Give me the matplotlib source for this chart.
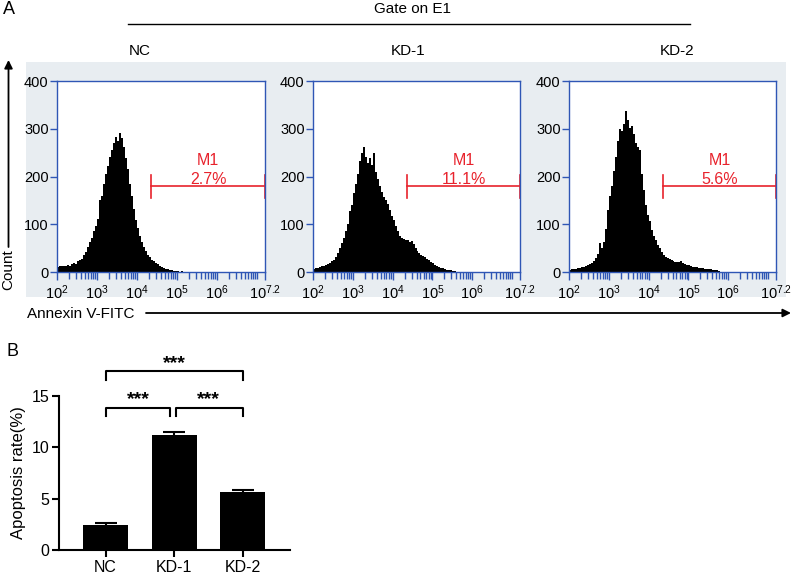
import numpy as np
import matplotlib.pyplot as plt
from matplotlib.patches import Rectangle, FancyArrowPatch

plt.rcParams['font.family'] = ['Liberation Sans', 'DejaVu Sans']
plt.rcParams['mathtext.fontset'] = 'custom'
plt.rcParams['mathtext.rm'] = 'Liberation Sans'

# histogram counts per 0.05-decade bin, starting at 10^2
nc_counts = [10, 12, 13, 12, 13, 14, 12, 16, 18, 17, 22, 25, 28, 35, 42, 52, 63, 72, 86, 97,
             112, 150, 160, 185, 205, 222, 240, 255, 270, 282, 275, 292, 280, 262, 238, 215,
             185, 160, 132, 108, 92, 76, 62, 52, 44, 36, 31, 26, 22, 19, 16, 13, 11, 9, 7, 6,
             5, 4, 3, 2, 2, 1, 2, 0, 1]
kd1_counts = [6, 8, 9, 10, 12, 13, 14, 16, 19, 22, 26, 32, 40, 50, 60, 72, 85, 100, 128, 140,
              165, 185, 205, 232, 250, 262, 240, 228, 238, 225, 250, 210, 195, 180, 168, 158,
              150, 142, 130, 118, 108, 96, 86, 76, 72, 70, 66, 68, 62, 64, 58, 50, 44, 40, 36,
              33, 31, 28, 25, 21, 18, 15, 13, 11, 9, 8, 7, 5, 4, 4, 2, 2, 1]
kd2_counts = [5, 6, 7, 7, 8, 9, 10, 10, 12, 14, 16, 19, 24, 30, 38, 60, 50, 62, 90, 130,
              160, 180, 212, 240, 275, 300, 296, 310, 338, 318, 302, 305, 288, 270, 262, 255,
              205, 172, 140, 120, 106, 88, 76, 66, 57, 50, 42, 36, 32, 29, 27, 25, 23, 21, 20,
              21, 22, 19, 17, 15, 14, 13, 11, 10, 10, 9, 8, 8, 7, 7, 6, 6, 5, 5, 4, 2]
hist_names = ['NC', 'KD-1', 'KD-2']
gate_pct = ['2.7%', '11.1%', '5.6%']
gate_start = 4.36  # log10
gate_level = 180

groups = ['NC', 'KD-1', 'KD-2']
rate_mean = [2.45, 11.2, 5.6]
rate_err = [0.2, 0.25, 0.2]

W, H = 796, 574
blue = '#2f56b5'
red = '#e8222c'


def fbox(x0, y0, x1, y1):
    return [x0 / W, 1 - y1 / H, (x1 - x0) / W, (y1 - y0) / H]


def fx(px):
    return px / W


def fy(py):
    return 1 - py / H


fig = plt.figure(figsize=(W / 100, H / 100), dpi=100)

# grey panel behind histograms
fig.patches.append(Rectangle((fx(26), fy(297)), fx(786) - fx(26), fy(62) - fy(297),
                             transform=fig.transFigure, facecolor='#e8edf1',
                             edgecolor='none', zorder=-5))

fig.text(fx(9), fy(9), 'A', fontsize=13, ha='center', va='center')
fig.text(fx(12), fy(352), 'B', fontsize=13, ha='center', va='center')
fig.text(fx(412), fy(9), 'Gate on E1', fontsize=11, ha='center', va='center')
fig.add_artist(plt.Line2D([fx(128), fx(690)], [fy(24), fy(24)], color='black', lw=1,
                          transform=fig.transFigure))
for name, xc in zip(hist_names, [140, 408, 677]):
    fig.text(fx(xc), fy(51), name, fontsize=11, ha='center', va='center')


def fig_arrow(p0, p1):
    fig.add_artist(FancyArrowPatch((fx(p0[0]), fy(p0[1])), (fx(p1[0]), fy(p1[1])),
                                   transform=fig.transFigure, arrowstyle='-|>',
                                   mutation_scale=12, color='black', lw=1.3,
                                   shrinkA=0, shrinkB=0))


# Count arrow
fig_arrow((8.5, 247), (8.5, 60))
fig.text(fx(8.5), fy(270), 'Count', fontsize=11, rotation=90, ha='center', va='center')

# Annexin arrow
fig.text(fx(27), fy(314), 'Annexin V-FITC', fontsize=11, ha='left', va='center')
fig_arrow((146, 313), (791, 313))

boxes = [(57, 81, 265, 272), (313, 81, 520, 272), (569, 81, 776, 272)]
major = [1e2, 1e3, 1e4, 1e5, 1e6, 10 ** 7.2]
major_lab = [r'$\mathregular{10^{%s}}$' % p for p in ['2', '3', '4', '5', '6', '7.2']]
minor = [k * 10.0 ** d for d in range(2, 8) for k in range(2, 10) if k * 10.0 ** d < 10 ** 7.2]
minor.append(1e7)

for counts, pct, box in zip([nc_counts, kd1_counts, kd2_counts], gate_pct, boxes):
    ax = fig.add_axes(fbox(*box))
    edges = 10 ** (2.0 + 0.05 * np.arange(len(counts) + 1))
    ax.stairs(counts, edges, fill=True, color='black', baseline=0)
    ax.set_xscale('log')
    ax.set_xlim(1e2, 10 ** 7.2)
    ax.set_ylim(0, 400)
    ax.set_xticks(major)
    ax.set_xticklabels(major_lab)
    ax.set_xticks(minor, minor=True)
    ax.xaxis.set_minor_formatter(plt.NullFormatter())
    ax.set_yticks([0, 100, 200, 300, 400])
    ax.tick_params(axis='both', which='both', colors=blue, labelcolor='black',
                   labelsize=10.5, width=1, direction='out')
    ax.tick_params(axis='x', which='major', length=6, pad=2)
    ax.tick_params(axis='x', which='minor', length=5)
    ax.tick_params(axis='y', length=5, pad=1)
    for s in ax.spines.values():
        s.set_color(blue)
        s.set_linewidth(1)
    # M1 gate
    g0, g1 = 10 ** gate_start, 10 ** 7.2
    ax.plot([g0, g1], [gate_level, gate_level], color=red, lw=1.2, clip_on=False)
    for g in (g0, g1):
        ax.plot([g, g], [gate_level - 24, gate_level + 24], color=red, lw=1.2, clip_on=False)
    gm = 10 ** ((gate_start + 7.2) / 2)
    ax.text(gm, 234, 'M1', color=red, fontsize=11.5, ha='center', va='center')
    ax.text(gm, 194, pct, color=red, fontsize=11.5, ha='center', va='center')

# panel B bar chart
axb = fig.add_axes(fbox(59, 395.7, 290, 550))
x = np.arange(len(groups))
axb.bar(x, rate_mean, width=0.66, color='black', yerr=rate_err, capsize=8,
        error_kw=dict(ecolor='black', elinewidth=1.5, capthick=1.5))
axb.set_xlim(-0.68, 2.69)
axb.set_ylim(0, 15)
axb.set_yticks([0, 5, 10, 15])
axb.set_xticks(x)
axb.set_xticklabels(groups)
for side in ('top', 'right'):
    axb.spines[side].set_visible(False)
for side in ('left', 'bottom'):
    axb.spines[side].set_linewidth(1.5)
axb.tick_params(width=1.5, length=5, labelsize=11.5, pad=2)
axb.set_ylabel('Apoptosis rate(%)', fontsize=12, labelpad=4)


def bracket(x0, x1, y, h):
    axb.plot([x0, x0, x1, x1], [y - h, y, y, y - h], color='black', lw=1.5, clip_on=False)


bracket(0.01, 0.94, 13.83, 0.78)
bracket(1.02, 2.0, 13.83, 0.78)
bracket(0.01, 2.0, 17.4, 0.88)
for xs, ys in [(0.48, 14.6), (1.5, 14.6), (1.0, 18.1)]:
    axb.text(xs, ys, '***', ha='center', va='center', fontsize=14, fontweight='bold',
             clip_on=False)

fig.savefig('out.png', dpi=100)
